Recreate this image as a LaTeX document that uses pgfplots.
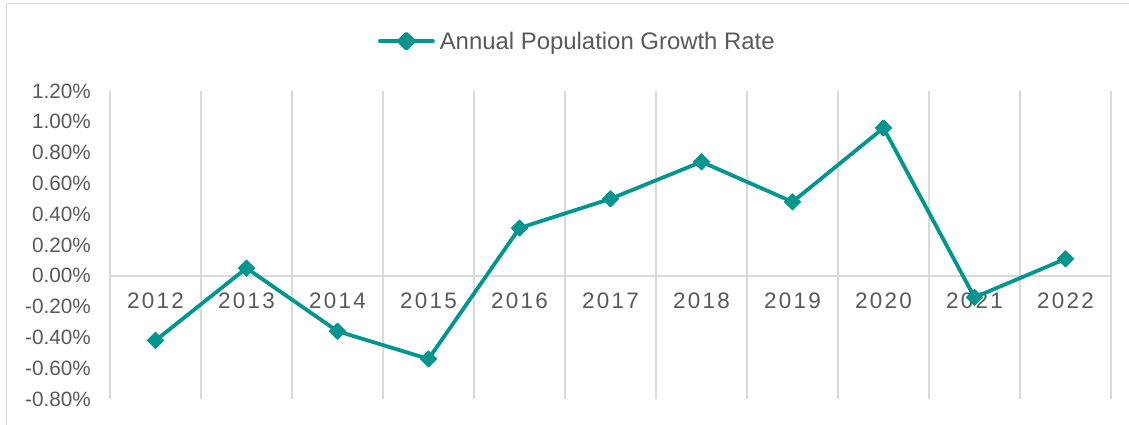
\documentclass[border=0pt]{standalone}
\usepackage{pgfplots}
\pgfplotsset{compat=1.18}
\usepackage{fontspec}
\setmainfont{Liberation Sans}
\newfontfamily\spaced[LetterSpace=10]{Liberation Sans}
\definecolor{teal1}{RGB}{0,150,143}
\definecolor{gridgray}{RGB}{217,217,217}
\definecolor{txt}{RGB}{89,89,89}

\begin{document}
\begin{tikzpicture}
\useasboundingbox (0,0) rectangle (1129bp,425bp);
\draw[gridgray, line width=1.5bp] (6.5bp,-20bp) -- (6.5bp,421.5bp) -- (1150bp,421.5bp);
\begin{axis}[
  at={(110bp,26bp)}, anchor=south west,
  scale only axis, width=1001bp, height=308bp,
  xmin=-0.5, xmax=10.5, ymin=-0.8, ymax=1.2,
  axis x line=middle, axis y line=left,
  hide obscured x ticks=false, hide obscured y ticks=false,
  x axis line style={-, draw=gridgray, line width=1.5bp},
  y axis line style={-, draw=none},
  xtick={0,1,2,3,4,5,6,7,8,9,10},
  xticklabels={2012,2013,2014,2015,2016,2017,2018,2019,2020,2021,2022},
  minor xtick={-0.5,0.5,1.5,2.5,3.5,4.5,5.5,6.5,7.5,8.5,9.5,10.5},
  xminorgrids, minor grid style={draw=gridgray, line width=1.5bp},
  ytick={-0.8,-0.6,-0.4,-0.2,0,0.2,0.4,0.6,0.8,1.0,1.2},
  tick style={draw=none}, major tick length=0pt, minor tick length=0pt,
  /pgf/number format/assume math mode=true,
  xticklabel style={font=\spaced\fontsize{22.5}{27}\selectfont, text=txt, anchor=north, inner sep=0pt, yshift=-17bp},
  yticklabel style={font=\fontsize{20.8}{25}\selectfont, text=txt, anchor=east, inner sep=0pt, xshift=-19bp},
  yticklabel={\pgfmathprintnumber[fixed,fixed zerofill,precision=2]{\tick}\%},
  clip=false,
  legend style={at={(axis description cs:0.2677,1.162)}, anchor=west, draw=none, fill=none,
    inner sep=0pt, outer sep=0pt, nodes={inner sep=0pt},
    font=\fontsize{24}{29}\selectfont, text=txt,
    /tikz/every odd column/.append style={column sep=5bp}},
  legend image code/.code={
    \draw[teal1, line width=3.8bp, line cap=round] (0bp,0bp) -- (53bp,0bp);
    \fill[teal1] (26.5bp,7.5bp) -- (34bp,0bp) -- (26.5bp,-7.5bp) -- (19bp,0bp) -- cycle;
  },
]
\addplot[teal1, line width=3.8bp, line join=round, mark=square*,
  mark size=5.7bp, mark options={solid, rotate=45, fill=teal1, draw=teal1, line width=1bp}]
  coordinates {
  (0,-0.42) (1,0.05) (2,-0.36) (3,-0.54) (4,0.31) (5,0.50)
  (6,0.74) (7,0.48) (8,0.96) (9,-0.14) (10,0.11)
  };
\addlegendentry{Annual Population Growth Rate}
\end{axis}
\end{tikzpicture}
\end{document}
